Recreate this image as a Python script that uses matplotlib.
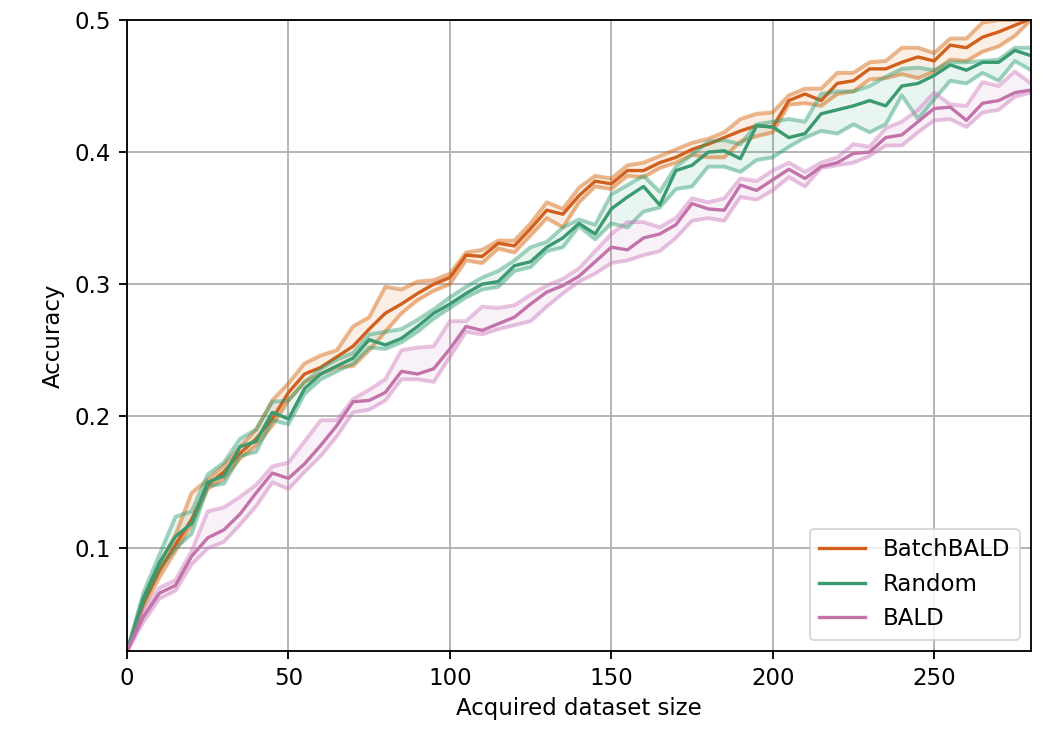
import matplotlib
matplotlib.use("Agg")
import matplotlib.pyplot as plt
import numpy as np

x = list(range(0, 281, 5))

batchbald_mean = [0.022, 0.058, 0.083, 0.103, 0.122, 0.148, 0.158, 0.172, 0.183, 0.198,
                  0.218, 0.232, 0.237, 0.245, 0.253, 0.266, 0.278, 0.285, 0.293, 0.300,
                  0.305, 0.322, 0.321, 0.331, 0.329, 0.342, 0.356, 0.353, 0.367, 0.378,
                  0.376, 0.386, 0.386, 0.392, 0.396, 0.402, 0.406, 0.411, 0.416, 0.420,
                  0.419, 0.439, 0.444, 0.439, 0.452, 0.454, 0.463, 0.463, 0.468, 0.472,
                  0.469, 0.481, 0.479, 0.487, 0.491, 0.496, 0.501]
batchbald_upper = [0.022, 0.062, 0.088, 0.110, 0.142, 0.152, 0.163, 0.177, 0.190, 0.212,
                   0.225, 0.240, 0.246, 0.250, 0.268, 0.275, 0.298, 0.296, 0.302, 0.303,
                   0.308, 0.324, 0.326, 0.333, 0.333, 0.346, 0.362, 0.357, 0.373, 0.382,
                   0.380, 0.390, 0.392, 0.397, 0.402, 0.407, 0.410, 0.415, 0.425, 0.429,
                   0.430, 0.443, 0.448, 0.448, 0.460, 0.460, 0.468, 0.469, 0.479, 0.479,
                   0.475, 0.486, 0.486, 0.498, 0.500, 0.500, 0.502]
batchbald_lower = [0.022, 0.055, 0.078, 0.098, 0.118, 0.145, 0.153, 0.168, 0.178, 0.193,
                   0.212, 0.226, 0.232, 0.237, 0.238, 0.250, 0.264, 0.278, 0.288, 0.295,
                   0.300, 0.318, 0.316, 0.327, 0.324, 0.337, 0.350, 0.343, 0.362, 0.374,
                   0.372, 0.382, 0.381, 0.388, 0.392, 0.398, 0.396, 0.396, 0.408, 0.412,
                   0.415, 0.436, 0.437, 0.435, 0.444, 0.446, 0.455, 0.456, 0.459, 0.456,
                   0.461, 0.470, 0.469, 0.476, 0.480, 0.488, 0.500]

random_mean = [0.022, 0.062, 0.089, 0.109, 0.119, 0.150, 0.155, 0.177, 0.181, 0.203,
               0.198, 0.221, 0.232, 0.238, 0.244, 0.258, 0.254, 0.259, 0.268, 0.278,
               0.285, 0.293, 0.300, 0.302, 0.314, 0.317, 0.328, 0.335, 0.346, 0.338,
               0.357, 0.366, 0.374, 0.360, 0.386, 0.390, 0.400, 0.401, 0.395, 0.420,
               0.419, 0.411, 0.414, 0.429, 0.432, 0.435, 0.439, 0.435, 0.450, 0.452,
               0.458, 0.466, 0.462, 0.468, 0.468, 0.477, 0.473]
random_upper = [0.022, 0.066, 0.095, 0.124, 0.128, 0.156, 0.165, 0.183, 0.190, 0.211,
                0.212, 0.226, 0.236, 0.243, 0.248, 0.262, 0.264, 0.266, 0.273, 0.281,
                0.290, 0.298, 0.305, 0.310, 0.318, 0.328, 0.332, 0.343, 0.349, 0.345,
                0.368, 0.375, 0.382, 0.370, 0.389, 0.398, 0.408, 0.409, 0.406, 0.421,
                0.423, 0.425, 0.423, 0.444, 0.446, 0.446, 0.450, 0.457, 0.463, 0.464,
                0.462, 0.468, 0.468, 0.469, 0.470, 0.479, 0.479]
random_lower = [0.022, 0.058, 0.085, 0.100, 0.111, 0.147, 0.149, 0.170, 0.173, 0.197,
                0.194, 0.217, 0.228, 0.234, 0.240, 0.252, 0.251, 0.256, 0.264, 0.274,
                0.282, 0.290, 0.296, 0.298, 0.310, 0.313, 0.325, 0.328, 0.344, 0.334,
                0.346, 0.343, 0.355, 0.358, 0.372, 0.374, 0.389, 0.389, 0.385, 0.394,
                0.396, 0.404, 0.411, 0.416, 0.414, 0.421, 0.415, 0.421, 0.443, 0.425,
                0.440, 0.454, 0.452, 0.460, 0.454, 0.469, 0.462]

bald_mean = [0.022, 0.048, 0.066, 0.072, 0.094, 0.108, 0.114, 0.126, 0.142, 0.157,
             0.153, 0.164, 0.178, 0.193, 0.211, 0.212, 0.218, 0.234, 0.232, 0.236,
             0.251, 0.268, 0.265, 0.270, 0.275, 0.285, 0.294, 0.299, 0.306, 0.317,
             0.328, 0.326, 0.335, 0.338, 0.345, 0.361, 0.357, 0.356, 0.375, 0.371,
             0.379, 0.387, 0.380, 0.389, 0.392, 0.399, 0.400, 0.411, 0.413, 0.423,
             0.433, 0.434, 0.424, 0.437, 0.439, 0.445, 0.447]
bald_upper = [0.022, 0.052, 0.070, 0.076, 0.098, 0.128, 0.131, 0.139, 0.148, 0.162,
              0.165, 0.181, 0.197, 0.197, 0.213, 0.220, 0.228, 0.250, 0.252, 0.253,
              0.272, 0.272, 0.283, 0.282, 0.284, 0.292, 0.299, 0.304, 0.312, 0.325,
              0.338, 0.347, 0.347, 0.343, 0.350, 0.365, 0.362, 0.365, 0.380, 0.378,
              0.386, 0.392, 0.385, 0.392, 0.396, 0.406, 0.404, 0.418, 0.423, 0.432,
              0.445, 0.436, 0.435, 0.453, 0.450, 0.461, 0.452]
bald_lower = [0.022, 0.044, 0.062, 0.068, 0.088, 0.100, 0.105, 0.118, 0.132, 0.150,
              0.145, 0.158, 0.170, 0.185, 0.203, 0.205, 0.212, 0.228, 0.228, 0.226,
              0.245, 0.264, 0.262, 0.266, 0.269, 0.272, 0.283, 0.293, 0.302, 0.308,
              0.316, 0.318, 0.322, 0.325, 0.335, 0.348, 0.350, 0.348, 0.366, 0.364,
              0.371, 0.381, 0.374, 0.388, 0.390, 0.392, 0.397, 0.405, 0.405, 0.415,
              0.424, 0.425, 0.419, 0.430, 0.432, 0.442, 0.445]

series = [
    ("BatchBALD", "#d55e00", "#d2601c", batchbald_mean, batchbald_upper, batchbald_lower),
    ("Random", "#2a9e74", "#3a9a70", random_mean, random_upper, random_lower),
    ("BALD", "#cc78bc", "#c472aa", bald_mean, bald_upper, bald_lower),
]

plt.rcParams['font.family'] = ['DejaVu Sans']
plt.rcParams['font.size'] = 16.5

fig = plt.figure(figsize=(10.56, 7.3), dpi=100)
ax = fig.add_axes([0.1203, 0.1082, 0.8560, 0.8644])

for name, band_color, line_color, m, u, l in series:
    ax.fill_between(x, l, u, color=band_color, alpha=0.1, linewidth=0)
    ax.plot(x, u, color=band_color, alpha=0.45, linewidth=2.8)
    ax.plot(x, l, color=band_color, alpha=0.45, linewidth=2.8)
    ax.plot(x, m, color=line_color, linewidth=2.4, label=name)

ax.set_xlim(0, 280)
ax.set_ylim(0.0223, 0.5)
ax.set_xticks([0, 50, 100, 150, 200, 250])
ax.set_yticks([0.1, 0.2, 0.3, 0.4, 0.5])
ax.grid(True, color="#b0b0b0", linewidth=1.32)
ax.set_axisbelow(True)
ax.set_xlabel("Acquired dataset size", fontsize=16.5, labelpad=5)
ax.set_ylabel("Accuracy", fontsize=16.5, labelpad=7)
ax.tick_params(length=5.8, width=1.32, labelsize=16.5, pad=5.8)
for s in ax.spines.values():
    s.set_linewidth(1.32)

leg = ax.legend(loc="lower right", fontsize=16.5)
leg.get_frame().set_linewidth(1.32)

fig.savefig("out.png", dpi=100)
